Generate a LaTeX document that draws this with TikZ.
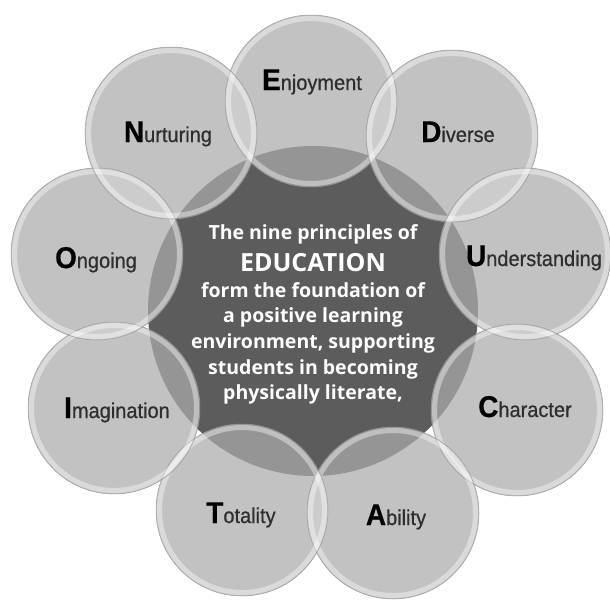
\documentclass[tikz,border=0pt]{standalone}
\usepackage{fontspec}
\setmainfont{Liberation Sans}
\newfontfamily\labfont[FakeStretch=0.93,FakeBold=0.6]{Liberation Sans}
\newfontfamily\ctrfont{Open Sans}
\definecolor{darkc}{HTML}{5C5C5C}
\definecolor{bub}{HTML}{ABABAB}
\definecolor{restc}{HTML}{2E2E2E}
\definecolor{rimc}{HTML}{9A9A9A}
\newcommand\fl[1]{{\fontsize{30}{30}\selectfont\bfseries\color{black}#1}}
\begin{document}
\begin{tikzpicture}[x=1pt,y=-1pt,
  lab/.style={anchor=base, inner sep=0pt, font=\labfont\fontsize{21.5}{21.5}\selectfont, text=restc},
  ctr/.style={anchor=base, inner sep=0pt, text=white, font=\ctrfont\bfseries\fontsize{19.5}{19.5}\selectfont},
  big/.style={ctr, font=\ctrfont\bfseries\fontsize{25}{25}\selectfont}]
\useasboundingbox[fill=white] (0,0) rectangle (610,602);
% central disk
\coordinate (ctr) at (313,311);
\fill[darkc] (ctr) circle (165pt);
% bubble centres
\foreach \n/\x/\y in {E/311/101, D/452/136, U/525/254, C/517/410, A/393/513,
                      T/242/510, I/114/408, O/97/254, N/171/133}
  {\coordinate (c\n) at (\x,\y);}
% bubbles
\foreach \n in {E,D,U,C,A,T,I,O,N}
  {\fill[bub, opacity=0.725] (c\n) circle (86pt);}
% lighter lenses where neighbours overlap
\foreach \a/\b in {E/D, D/U, U/C, C/A, A/T, T/I, I/O, O/N, N/E}
  {\begin{scope}
     \clip (c\a) circle (86pt);
     \fill[white, opacity=0.35] (c\b) circle (86pt);
   \end{scope}}
% glossy rims
\foreach \n in {E,D,U,C,A,T,I,O,N}
  {\draw[white, opacity=0.4, line width=5pt] (c\n) circle (82.5pt);
   \draw[rimc, line width=0.5pt] (c\n) circle (86pt);}
% labels
\node[lab] (lE) at (312,90)  {\fl Enjoyment};
\node[lab] (lD) at (458,142) {\fl Diverse};
\node[lab] (lU) at (534,266) {\fl Understanding};
\node[lab] (lC) at (525,417) {\fl Character};
\node[lab] (lA) at (396,525) {\fl Ability};
\node[lab] (lT) at (241,523) {\fl Totality};
\node[lab] (lI) at (117,418) {\fl Imagination};
\node[lab] (lO) at (96,268)  {\fl Ongoing};
\node[lab] (lN) at (168,142) {\fl Nurturing};
% central text
\node[ctr] (t1) at (313,239) {The nine principles of};
\node[big] (t2) at (313,271) {EDUCATION};
\node[ctr] (t3) at (313,297) {form the foundation of};
\node[ctr] (t4) at (313,322) {a positive learning};
\node[ctr] (t5) at (313,348) {environment, supporting};
\node[ctr] (t6) at (313,374) {students in becoming};
\node[ctr] (t7) at (313,399) {physically literate,};
\end{tikzpicture}
\end{document}
